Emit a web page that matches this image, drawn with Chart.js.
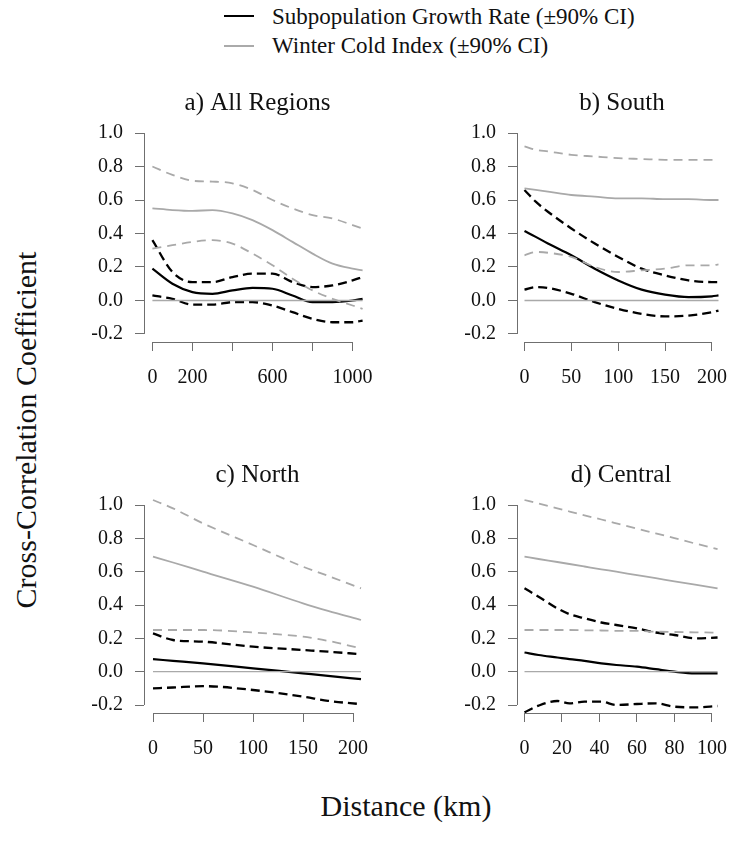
<!DOCTYPE html>
<html>
<head>
<meta charset="utf-8">
<script src="https://cdn.jsdelivr.net/npm/chart.js@4.4.1/dist/chart.umd.min.js"></script>
<style>
  body { margin:0; width:742px; height:850px; background:#fff; overflow:hidden; position:relative; font-family:"Liberation Serif", "DejaVu Serif", serif; color:#111; }
  canvas { position:absolute; }
  .lg { position:absolute; left:272px; font-size:23px; line-height:30px; white-space:nowrap; }
  .lgline { position:absolute; left:224px; width:30px; }
  #ytitle { position:absolute; left:26px; top:430px; font-size:30px; white-space:nowrap; transform:translate(-50%,-50%) rotate(-90deg); }
  #xtitle { position:absolute; left:406px; top:806px; font-size:30px; white-space:nowrap; transform:translate(-50%,-50%); }
</style>
</head>
<body>
<div class="lgline" style="top:15px;border-top:2px solid #000"></div>
<div class="lg" style="top:2px">Subpopulation Growth Rate (±90% CI)</div>
<div class="lgline" style="top:45px;border-top:2px solid #aaa"></div>
<div class="lg" style="top:31px">Winter Cold Index (±90% CI)</div>
<div id="ytitle">Cross-Correlation Coefficient</div>
<div id="xtitle">Distance (km)</div>

<canvas id="pa" width="330" height="320" style="left:60px;top:80px"></canvas>
<canvas id="pb" width="309" height="320" style="left:433px;top:80px"></canvas>
<canvas id="pc" width="330" height="320" style="left:60px;top:452px"></canvas>
<canvas id="pd" width="309" height="320" style="left:433px;top:452px"></canvas>

<script>
// shared y axis
var yTicks = [-0.2, 0, 0.2, 0.4, 0.6, 0.8, 1.0];

// a) All Regions
var distA = [0, 100, 200, 300, 400, 500, 600, 700, 800, 900, 1000, 1050];
var growthA   = [0.19, 0.10, 0.05, 0.04, 0.06, 0.075, 0.07, 0.03, -0.01, -0.01, 0.0, 0.01];
var growthLoA = [0.03, 0.01, -0.025, -0.025, -0.01, -0.01, -0.03, -0.07, -0.11, -0.13, -0.13, -0.12];
var growthHiA = [0.36, 0.17, 0.11, 0.11, 0.14, 0.16, 0.16, 0.11, 0.08, 0.09, 0.12, 0.14];
var coldA   = [0.55, 0.54, 0.535, 0.54, 0.52, 0.48, 0.42, 0.35, 0.28, 0.22, 0.19, 0.18];
var coldLoA = [0.31, 0.33, 0.35, 0.36, 0.34, 0.28, 0.21, 0.13, 0.06, 0.01, -0.03, -0.05];
var coldHiA = [0.80, 0.75, 0.715, 0.71, 0.70, 0.66, 0.60, 0.55, 0.51, 0.49, 0.45, 0.43];
var xTicksA = [0, 200, 400, 600, 800, 1000];
var xLabelsA = ['0', '200', '', '600', '', '1000'];

// b) South
var distB = [0, 12, 25, 50, 75, 100, 125, 150, 175, 200, 207];
var growthB   = [0.415, 0.38, 0.34, 0.27, 0.19, 0.12, 0.065, 0.035, 0.02, 0.025, 0.03];
var growthLoB = [0.065, 0.08, 0.075, 0.04, -0.01, -0.05, -0.08, -0.095, -0.09, -0.07, -0.06];
var growthHiB = [0.66, 0.59, 0.53, 0.43, 0.34, 0.26, 0.19, 0.15, 0.12, 0.11, 0.11];
var coldB   = [0.67, 0.66, 0.65, 0.63, 0.62, 0.61, 0.61, 0.605, 0.605, 0.60, 0.60];
var coldLoB = [0.27, 0.29, 0.285, 0.26, 0.20, 0.17, 0.18, 0.19, 0.21, 0.21, 0.215];
var coldHiB = [0.92, 0.90, 0.89, 0.87, 0.86, 0.85, 0.845, 0.84, 0.84, 0.84, 0.84];
var xTicksB = [0, 50, 100, 150, 200];
var xLabelsB = ['0', '50', '100', '150', '200'];

// c) North
var distC = [0, 20, 50, 100, 150, 175, 208];
var growthC   = [0.075, 0.065, 0.05, 0.02, -0.01, -0.025, -0.045];
var growthLoC = [-0.10, -0.095, -0.087, -0.11, -0.15, -0.175, -0.195];
var growthHiC = [0.23, 0.19, 0.18, 0.15, 0.13, 0.12, 0.105];
var coldC   = [0.69, 0.655, 0.60, 0.51, 0.41, 0.365, 0.31];
var coldLoC = [0.25, 0.25, 0.25, 0.235, 0.21, 0.185, 0.14];
var coldHiC = [1.03, 0.98, 0.89, 0.76, 0.63, 0.575, 0.50];
var xTicksC = [0, 50, 100, 150, 200];
var xLabelsC = ['0', '50', '100', '150', '200'];

// d) Central
var distD = [0, 7.5, 17.5, 24, 32, 41, 49, 60, 70, 80, 91, 103];
var growthD   = [0.115, 0.10, 0.085, 0.075, 0.065, 0.05, 0.04, 0.03, 0.015, 0.0, -0.01, -0.01];
var growthLoD = [-0.244, -0.204, -0.176, -0.19, -0.18, -0.18, -0.20, -0.194, -0.19, -0.21, -0.214, -0.206];
var growthHiD = [0.50, 0.45, 0.38, 0.345, 0.32, 0.295, 0.28, 0.26, 0.235, 0.22, 0.20, 0.205];
var coldD   = [0.69, 0.676, 0.658, 0.646, 0.631, 0.614, 0.60, 0.579, 0.561, 0.542, 0.522, 0.50];
var coldLoD = [0.25, 0.25, 0.25, 0.25, 0.248, 0.247, 0.245, 0.245, 0.24, 0.238, 0.236, 0.234];
var coldHiD = [1.03, 1.009, 0.98, 0.961, 0.938, 0.913, 0.89, 0.858, 0.83, 0.801, 0.769, 0.735];
var xTicksD = [0, 20, 40, 60, 80, 100];
var xLabelsD = ['0', '20', '40', '60', '80', '100'];

var BLACK = '#000';
var GREY = '#a9a9a9';
var AXIS = '#6f6f6f';
var FONT = '"Liberation Serif", "DejaVu Serif", serif';

Chart.defaults.font.family = FONT;
Chart.defaults.color = '#111';

function pts(xs, ys) {
  return xs.map(function (x, i) { return { x: x, y: ys[i] }; });
}

function line(data, color, width, dash) {
  return {
    data: data, borderColor: color, borderWidth: width, borderDash: dash || [],
    pointRadius: 0, fill: false, tension: 0.4, cubicInterpolationMode: 'monotone'
  };
}

// draws R-style axis lines (first to last tick only) and the panel title
var rAxes = {
  id: 'rAxes',
  afterDraw: function (chart) {
    var ctx = chart.ctx, a = chart.chartArea;
    var xs = chart.scales.x, ys = chart.scales.y;
    var xt = xs.ticks, yt = ys.ticks;
    ctx.save();
    ctx.strokeStyle = AXIS;
    ctx.lineWidth = 1;
    ctx.beginPath();
    ctx.moveTo(a.left + 0.5, ys.getPixelForValue(yt[0].value));
    ctx.lineTo(a.left + 0.5, ys.getPixelForValue(yt[yt.length - 1].value));
    ctx.moveTo(xs.getPixelForValue(xt[0].value), a.bottom + 0.5);
    ctx.lineTo(xs.getPixelForValue(xt[xt.length - 1].value), a.bottom + 0.5);
    ctx.stroke();
    ctx.fillStyle = '#111';
    ctx.font = '25px ' + FONT;
    ctx.textAlign = 'center';
    ctx.textBaseline = 'middle';
    ctx.fillText(chart.options.plugins.rAxes.title, (a.left + a.right) / 2, a.top - 22);
    ctx.restore();
  }
};

function panel(id, title, dist, g, gLo, gHi, c, cLo, cHi, xMin, xMax, xTicks, xLabels, pad) {
  var zero = [{ x: dist[0], y: 0 }, { x: dist[dist.length - 1], y: 0 }];
  new Chart(document.getElementById(id), {
    type: 'line',
    data: {
      datasets: [
        line(zero, GREY, 1.3),
        line(pts(dist, cHi), GREY, 1.8, [9, 6]),
        line(pts(dist, cLo), GREY, 1.8, [9, 6]),
        line(pts(dist, c), GREY, 1.8),
        line(pts(dist, gHi), BLACK, 2.3, [9, 5]),
        line(pts(dist, gLo), BLACK, 2.3, [9, 5]),
        line(pts(dist, g), BLACK, 2.2)
      ]
    },
    options: {
      responsive: false,
      animation: false,
      devicePixelRatio: 1,
      layout: { padding: { top: pad.top, right: pad.right, left: 0, bottom: 0 } },
      plugins: { legend: { display: false }, tooltip: { enabled: false }, rAxes: { title: title } },
      scales: {
        x: {
          type: 'linear', min: xMin, max: xMax,
          afterBuildTicks: function (s) { s.ticks = xTicks.map(function (v) { return { value: v }; }); },
          afterFit: function (s) { s.height = pad.bottom; },
          ticks: {
            autoSkip: false, maxRotation: 0, padding: 15, color: '#111',
            font: { family: FONT, size: 20 },
            callback: function (v, i) { return xLabels[i]; }
          },
          grid: { drawOnChartArea: false, drawTicks: true, tickLength: 9, color: AXIS },
          border: { display: false }
        },
        y: {
          min: -0.248, max: 1.048,
          afterBuildTicks: function (s) { s.ticks = yTicks.map(function (v) { return { value: v }; }); },
          afterFit: function (s) { s.width = pad.left; },
          ticks: {
            padding: 12, color: '#111',
            font: { family: FONT, size: 20 },
            callback: function (v) { return v.toFixed(1); }
          },
          grid: { drawOnChartArea: false, drawTicks: true, tickLength: 9, color: AXIS },
          border: { display: false }
        }
      }
    },
    plugins: [rAxes]
  });
}

panel('pa', 'a) All Regions', distA, growthA, growthLoA, growthHiA, coldA, coldLoA, coldHiA,
  -42, 1092, xTicksA, xLabelsA, { left: 84, top: 45, right: 19, bottom: 58 });
panel('pb', 'b) South', distB, growthB, growthLoB, growthHiB, coldB, coldLoB, coldHiB,
  -8, 216, xTicksB, xLabelsB, { left: 84, top: 45, right: 1, bottom: 58 });
panel('pc', 'c) North', distC, growthC, growthLoC, growthHiC, coldC, coldLoC, coldHiC,
  -9, 218, xTicksC, xLabelsC, { left: 84, top: 45, right: 19, bottom: 59 });
panel('pd', 'd) Central', distD, growthD, growthLoD, growthHiD, coldD, coldLoD, coldHiD,
  -4, 107, xTicksD, xLabelsD, { left: 84, top: 45, right: 1, bottom: 59 });
</script>
</body>
</html>
